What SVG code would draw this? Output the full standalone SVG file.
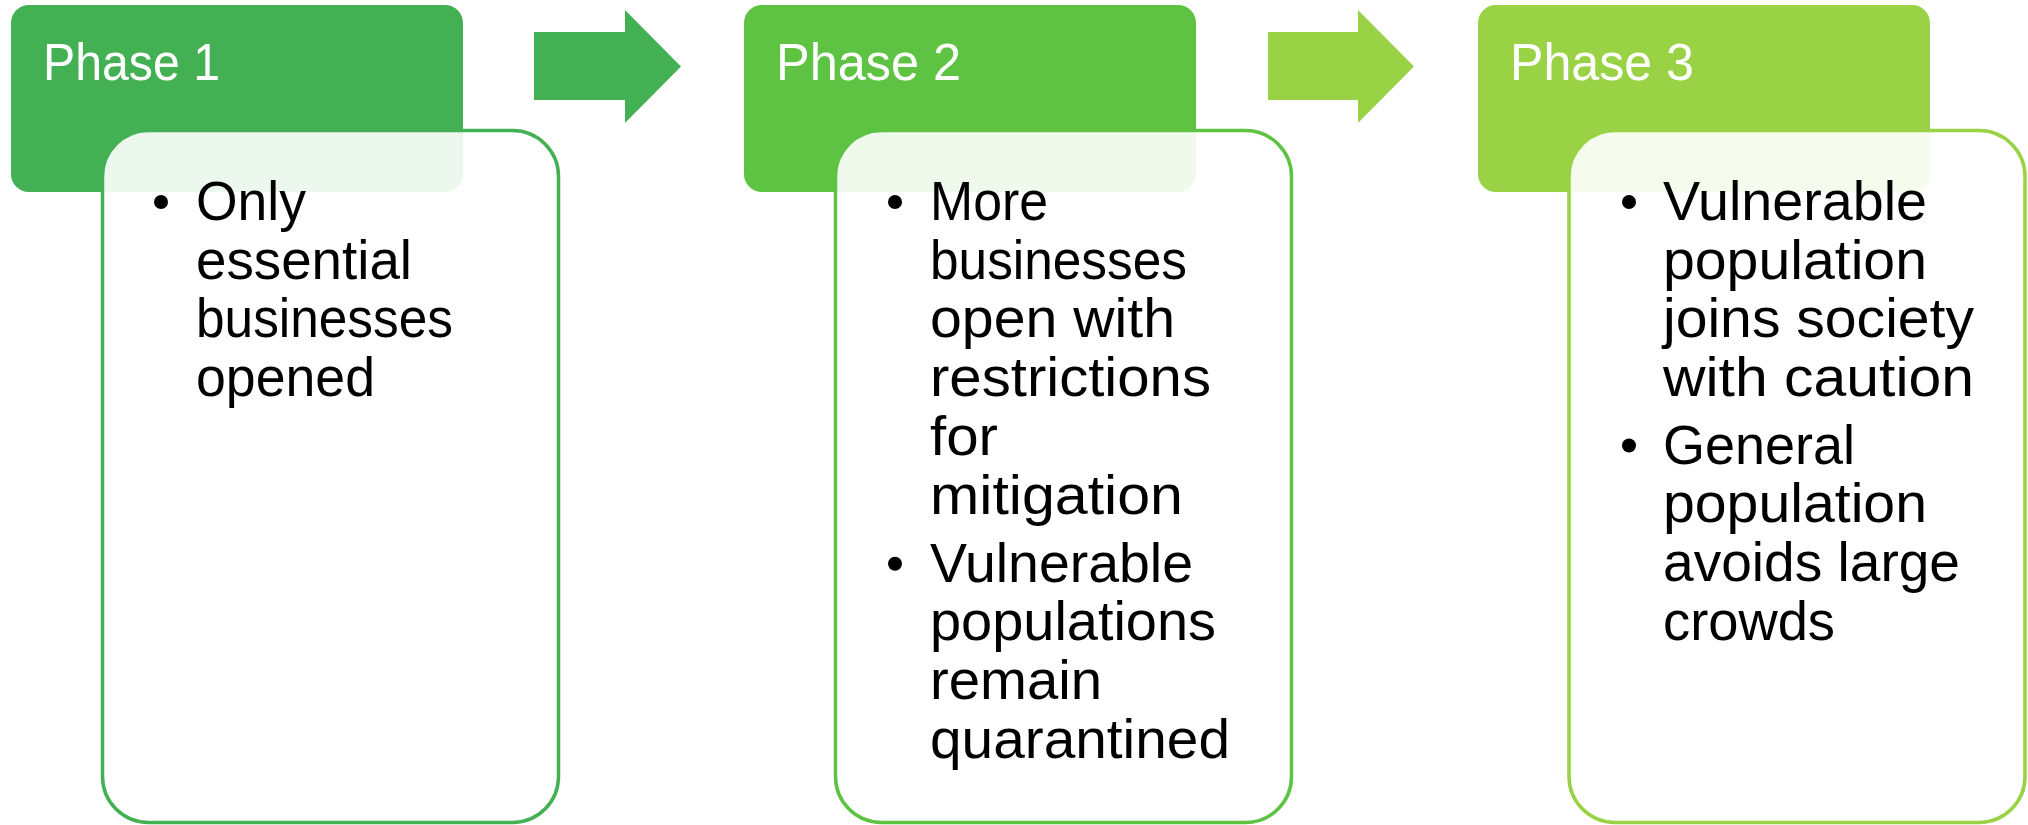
<svg xmlns="http://www.w3.org/2000/svg" width="2028" height="825" viewBox="0 0 2028 825">
  <style>
    .hdr { stroke: none; }
    .body { fill: #ffffff; fill-opacity: 0.9; stroke-width: 3.5; }
    .ttl { font-family: "Liberation Sans", Arial, sans-serif; font-size: 52px; fill: #ffffff; }
    .txt { font-family: "Liberation Sans", Arial, sans-serif; font-size: 55px; fill: #000000; }
    .dot { fill: #000000; }
    .c1 { fill: #44B054; }
    .c2 { fill: #5EC342; }
    .c3 { fill: #99D245; }
  </style>
  <rect width="2028" height="825" fill="#ffffff"/>
  <g id="connectors">
    <polygon class="c1" points="534,32 625,32 625,10 681,66.5 625,123 625,100 534,100"/>
    <polygon class="c3" points="1268,32 1358,32 1358,10 1414,66.5 1358,123 1358,100 1268,100"/>
  </g>
  <g id="phase1">
    <rect class="hdr c1" x="11" y="5" width="452" height="187" rx="18"/>
    <text class="ttl" x="43" y="80" textLength="177" lengthAdjust="spacingAndGlyphs">Phase 1</text>
    <rect class="body" x="102.5" y="130.5" width="456" height="692" rx="46" stroke="#44B054"/>
    <circle class="dot" cx="161" cy="202" r="7"/>
    <text class="txt" x="196" y="220" textLength="110" lengthAdjust="spacingAndGlyphs">Only</text>
    <text class="txt" x="196" y="278.7" textLength="216" lengthAdjust="spacingAndGlyphs">essential</text>
    <text class="txt" x="196" y="337.4" textLength="257" lengthAdjust="spacingAndGlyphs">businesses</text>
    <text class="txt" x="196" y="396.1" textLength="179" lengthAdjust="spacingAndGlyphs">opened</text>
  </g>
  <g id="phase2">
    <rect class="hdr c2" x="744" y="5" width="452" height="187" rx="18"/>
    <text class="ttl" x="776" y="80" textLength="185" lengthAdjust="spacingAndGlyphs">Phase 2</text>
    <rect class="body" x="835.5" y="130.5" width="456" height="692" rx="46" stroke="#5EC342"/>
    <circle class="dot" cx="895" cy="202" r="7"/>
    <circle class="dot" cx="895" cy="563.7" r="7"/>
    <text class="txt" x="930" y="220" textLength="118" lengthAdjust="spacingAndGlyphs">More</text>
    <text class="txt" x="930" y="278.7" textLength="257" lengthAdjust="spacingAndGlyphs">businesses</text>
    <text class="txt" x="930" y="337.4" textLength="245" lengthAdjust="spacingAndGlyphs">open with</text>
    <text class="txt" x="930" y="396.1" textLength="281" lengthAdjust="spacingAndGlyphs">restrictions</text>
    <text class="txt" x="930" y="454.8" textLength="68" lengthAdjust="spacingAndGlyphs">for</text>
    <text class="txt" x="930" y="513.5" textLength="253" lengthAdjust="spacingAndGlyphs">mitigation</text>
    <text class="txt" x="930" y="581.7" textLength="263" lengthAdjust="spacingAndGlyphs">Vulnerable</text>
    <text class="txt" x="930" y="640.4" textLength="286" lengthAdjust="spacingAndGlyphs">populations</text>
    <text class="txt" x="930" y="699.1" textLength="172" lengthAdjust="spacingAndGlyphs">remain</text>
    <text class="txt" x="930" y="757.8" textLength="300" lengthAdjust="spacingAndGlyphs">quarantined</text>
  </g>
  <g id="phase3">
    <rect class="hdr c3" x="1478" y="5" width="452" height="187" rx="18"/>
    <text class="ttl" x="1510" y="80" textLength="184" lengthAdjust="spacingAndGlyphs">Phase 3</text>
    <rect class="body" x="1569" y="130.5" width="456" height="692" rx="46" stroke="#99D245"/>
    <circle class="dot" cx="1629" cy="202" r="7"/>
    <circle class="dot" cx="1629" cy="445.5" r="7"/>
    <text class="txt" x="1663" y="220" textLength="264" lengthAdjust="spacingAndGlyphs">Vulnerable</text>
    <text class="txt" x="1663" y="278.7" textLength="264" lengthAdjust="spacingAndGlyphs">population</text>
    <text class="txt" x="1663" y="337.4" textLength="311" lengthAdjust="spacingAndGlyphs">joins society</text>
    <text class="txt" x="1663" y="396.1" textLength="311" lengthAdjust="spacingAndGlyphs">with caution</text>
    <text class="txt" x="1663" y="463.5" textLength="192" lengthAdjust="spacingAndGlyphs">General</text>
    <text class="txt" x="1663" y="522.2" textLength="264" lengthAdjust="spacingAndGlyphs">population</text>
    <text class="txt" x="1663" y="580.9" textLength="297" lengthAdjust="spacingAndGlyphs">avoids large</text>
    <text class="txt" x="1663" y="639.6" textLength="172" lengthAdjust="spacingAndGlyphs">crowds</text>
  </g>
</svg>
